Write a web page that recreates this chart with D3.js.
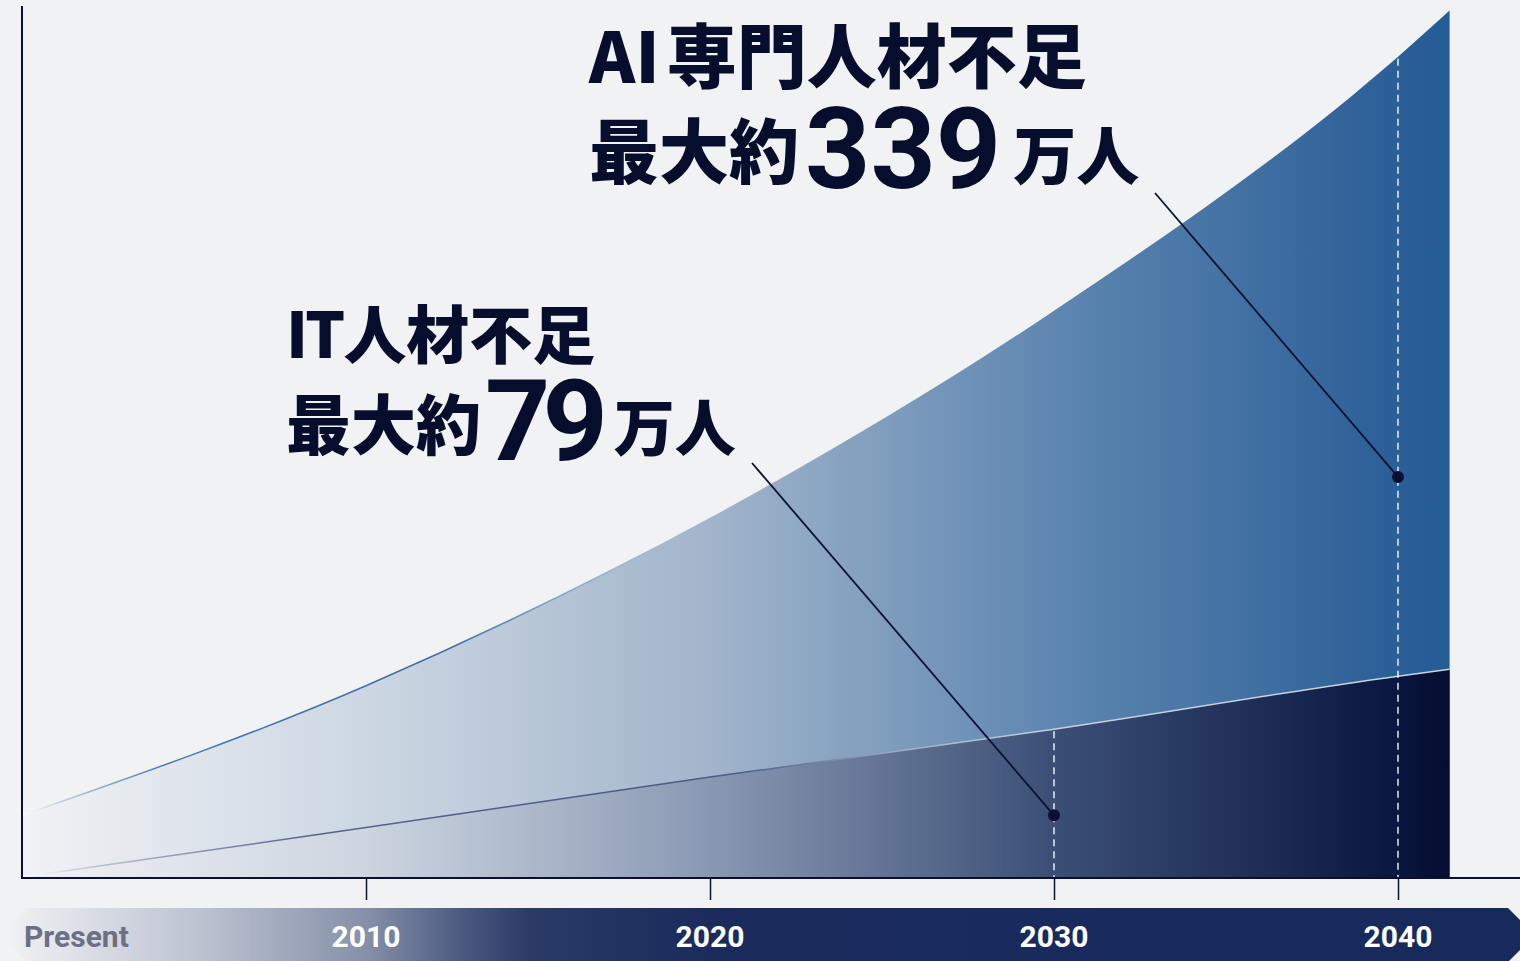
<!DOCTYPE html>
<html>
<head>
<meta charset="utf-8">
<script src="https://cdn.jsdelivr.net/npm/d3@7"></script>
<style>
html,body{margin:0;padding:0;background:#f1f2f4;}
svg{display:block;}
</style>
</head>
<body>
<div id="chart"></div>
<script>
// ---- data ----
const years = [2000, 2010, 2020, 2030, 2040, 2041.5];
const aiShortage = [7.2, 22.1, 41.4, 65.2, 94.4, 99.7];
const itShortage = [0.1, 5.8, 11.6, 17.1, 23.2, 24.0];
const tickYears = [2000, 2010, 2020, 2030, 2040];
const tickLabels = ["Present", "2010", "2020", "2030", "2040"];
const markerYears = [2030, 2040];
const markerLevels = [7.2, 46.1];

const W = 1520, H = 961;
const navy = "#0a1034";
const svg = d3.select("#chart").append("svg").attr("width", W).attr("height", H);
svg.append("rect").attr("width", W).attr("height", H).attr("fill", "#f1f2f4");

const x = d3.scaleLinear().domain([2000, 2040]).range([22, 1398]);
const y = d3.scaleLinear().domain([0, 100]).range([878, 8]);

const defs = svg.append("defs");
function grad(id, x1, x2, stops) {
  const g = defs.append("linearGradient").attr("id", id)
    .attr("gradientUnits", "userSpaceOnUse")
    .attr("x1", x1).attr("x2", x2).attr("y1", 0).attr("y2", 0);
  stops.forEach(s => g.append("stop").attr("offset", s[0]).attr("stop-color", s[1])
    .attr("stop-opacity", s[2] === undefined ? 1 : s[2]));
}
const x0 = x(years[0]), x1 = x(years[years.length - 1]);
grad("aiFill", x0, x1, [[0, "#f0f2f5"], [0.24, "#cdd7e3"], [0.48, "#a2b5cb"], [0.72, "#5f87b1"], [0.96, "#2b5f97"], [1, "#245c95"]]);
grad("itFill", x0, x1, [[0, "#f0f2f5"], [0.24, "#cdd5e0"], [0.48, "#8a99b3"], [0.72, "#3c5077"], [0.96, "#0a1740"], [1, "#050d2f"]]);
grad("aiStroke", x0, x1, [[0, "#ffffff"], [0.03, "#b6c9e0"], [0.1, "#4a78b0"], [0.3, "#3d6ca5"], [0.45, "#3d6ca5", 0]]);
grad("itStroke", x0, x1, [[0, "#ffffff"], [0.05, "#b8c3d6"], [0.2, "#56638a"], [0.5, "#4a5a85"], [0.62, "#a0b0c8"], [0.72, "#c4cfde"], [1, "#c8d3e2"]]);
grad("band", 0, 1535, [[0, "#f2f3f6"], [0.13, "#bcc3d1"], [0.24, "#858fa8"], [0.3, "#4b5a80"], [0.345, "#2b3b66"], [0.46, "#1a2b5c"], [1, "#172a5c"]]);

const aiData = years.map((yr, i) => ({yr, v: aiShortage[i]}));
const itData = years.map((yr, i) => ({yr, v: itShortage[i]}));
const area = d3.area().x(d => x(d.yr)).y0(y(0)).y1(d => y(d.v)).curve(d3.curveMonotoneX);
const line = d3.line().x(d => x(d.yr)).y(d => y(d.v)).curve(d3.curveMonotoneX);

svg.append("path").attr("d", area(aiData)).attr("fill", "url(#aiFill)");
svg.append("path").attr("d", line(aiData)).attr("fill", "none").attr("stroke", "url(#aiStroke)").attr("stroke-width", 1.5);
svg.append("path").attr("d", area(itData)).attr("fill", "url(#itFill)");
svg.append("path").attr("d", line(itData)).attr("fill", "none").attr("stroke", "url(#itStroke)").attr("stroke-width", 1.5);

// dashed guides
const valueAt = (data, yr) => data[years.indexOf(yr)].v;
svg.append("line").attr("x1", x(2030)).attr("x2", x(2030)).attr("y1", y(valueAt(itData, 2030)) + 2).attr("y2", y(0))
  .attr("stroke", "#ffffff").attr("stroke-opacity", 0.9).attr("stroke-width", 1.5).attr("stroke-dasharray", "7,5");
svg.append("line").attr("x1", x(2040)).attr("x2", x(2040)).attr("y1", y(valueAt(aiData, 2040)) + 2).attr("y2", y(0))
  .attr("stroke", "#ffffff").attr("stroke-opacity", 0.9).attr("stroke-width", 1.5).attr("stroke-dasharray", "7,5");

// axes
svg.append("line").attr("x1", x0).attr("x2", x0).attr("y1", 6).attr("y2", y(0) + 1).attr("stroke", navy).attr("stroke-width", 2);
svg.append("line").attr("x1", x0 - 1).attr("x2", W).attr("y1", y(0)).attr("y2", y(0)).attr("stroke", navy).attr("stroke-width", 2);
const xAxis = d3.axisBottom(x).tickValues(tickYears.slice(1)).tickSize(22).tickFormat("");
const ax = svg.append("g").attr("transform", `translate(0,${y(0)})`).call(xAxis);
ax.select(".domain").remove();
ax.selectAll(".tick line").attr("stroke", navy).attr("stroke-width", 1.5);

// band
svg.append("path")
  .attr("d", "M27,908 L1508,908 L1535,935 L1508,962 L27,962 L0,935 Z")
  .attr("fill", "url(#band)");
svg.selectAll("text.tick-label").data(tickYears).enter().append("text")
  .attr("class", "tick-label")
  .attr("x", (d, i) => i === 0 ? 24 : x(d))
  .attr("y", 947)
  .attr("text-anchor", (d, i) => i === 0 ? "start" : "middle")
  .attr("font-family", "Roboto, 'Open Sans', sans-serif")
  .attr("font-weight", 700)
  .attr("font-size", 30)
  .attr("fill", (d, i) => i === 0 ? "#6b7083" : "#ffffff")
  .text((d, i) => tickLabels[i]);

// leader lines & dots
const leaderStarts = [[752, 463], [1155, 193]];
markerYears.forEach((yr, i) => {
  svg.append("line").attr("x1", leaderStarts[i][0]).attr("y1", leaderStarts[i][1])
    .attr("x2", x(yr)).attr("y2", y(markerLevels[i]))
    .attr("stroke", navy).attr("stroke-width", 1.8);
  svg.append("circle").attr("cx", x(yr)).attr("cy", y(markerLevels[i])).attr("r", 6).attr("fill", navy);
});

// labels
const cjk = "'Noto Sans CJK JP', 'Noto Sans CJK SC', sans-serif";
const num = "Roboto, 'Open Sans', sans-serif";
const textColor = "#070d2d";

function label(xp, yp, size, parts) {
  const t = svg.append("text").attr("x", xp).attr("y", yp).attr("fill", textColor);
  parts.forEach(p => {
    const s = t.append("tspan").text(p.t)
      .attr("font-family", p.num ? num : cjk)
      .attr("font-weight", p.num ? 700 : 900)
      .attr("font-size", p.size || size);
    if (p.dx) s.attr("dx", p.dx);
    if (p.dy) s.attr("dy", p.dy);
    if (p.ls) s.attr("letter-spacing", p.ls);
  });
}
label(589, 83, 70, [{t: "AI"}, {t: "専門人材不足", dx: 7}]);
label(589, 178, 70, [{t: "最大約"}, {t: "339", num: true, size: 114, dx: 6, dy: 10}, {t: "万人", size: 63, dx: 12, dy: -9}]);
label(286, 358, 63, [{t: "IT", ls: -3}, {t: "人材不足", dx: 1}]);
label(286, 449, 65, [{t: "最大約"}, {t: "79", num: true, size: 114, dx: 4, dy: 11, ls: -8}, {t: "万人", size: 61, dx: 14, dy: -9}]);
</script>
</body>
</html>
